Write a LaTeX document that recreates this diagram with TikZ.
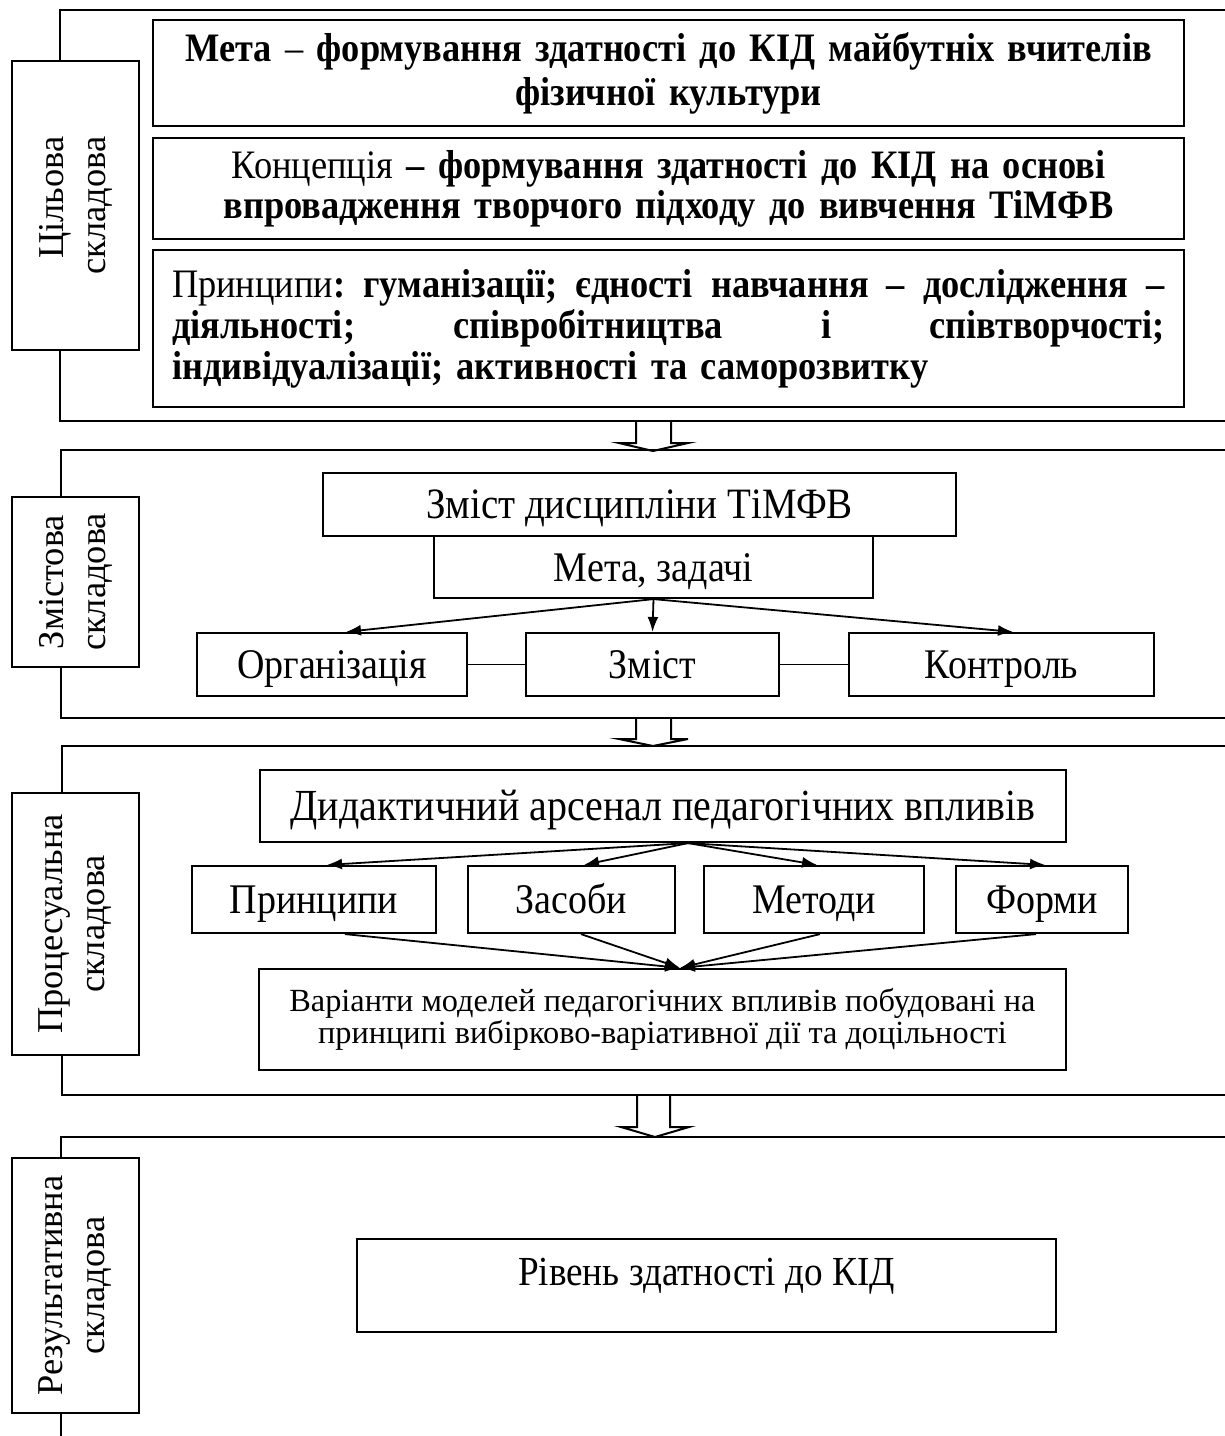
\documentclass[tikz,border=0pt]{standalone}
\usepackage{fontspec}
\setmainfont{Liberation Serif}[FakeStretch=0.9]
\newfontfamily\lblfont{Liberation Serif}
\usetikzlibrary{arrows.meta,calc}
\newcommand\topsz{\fontsize{40.4}{44}\selectfont}
\newcommand\boxsz{\fontsize{42.2}{44}\selectfont}
\newcommand\bigsz{\fontsize{44.4}{46}\selectfont}
\newcommand\jsp{\hskip 0.25em plus 1fil\relax}
\tikzset{
  box/.style={draw, line width=2.2pt, fill=white, inner sep=0pt, font=\boxsz},
  one/.style={text height=30pt, text depth=2pt},
  lbl/.style={draw, line width=2.2pt, fill=white, inner sep=0pt, rotate=90, minimum height=127pt, font=\lblfont\fontsize{36.4}{42}\selectfont},
  frameline/.style={line width=2.2pt},
  hollow/.style={line width=2pt, line join=miter},
  con/.style={line width=1.8pt, -{Latex[length=15pt,width=11pt]}},
  ln/.style={line width=1.8pt}
}
\begin{document}
\begin{tikzpicture}[x=1pt,y=-1pt]
\useasboundingbox (0,0) rectangle (1225,1436);

% frames
\draw[frameline] (1225,10) -- (60,10) -- (60,421) -- (1225,421);
\draw[frameline] (1225,450) -- (61,450) -- (61,718) -- (1225,718);
\draw[frameline] (1225,746) -- (62,746) -- (62,1095) -- (1225,1095);
\draw[frameline] (1225,1137) -- (61,1137) -- (61,1436);

% hollow arrows between frames
\draw[hollow] (636,421) -- (636,443) -- (619,443) -- (653,451) -- (688,443) -- (671,443) -- (671,421);
\draw[hollow] (636,718) -- (636,739) -- (619,739) -- (653,746) -- (688,739) -- (671,739) -- (671,718);
\draw[hollow] (637,1095) -- (637,1127) -- (621,1127) -- (655,1137) -- (689,1127) -- (670,1127) -- (670,1095);

% side labels
\node[lbl, minimum width=289pt, align=right] (l1) at (75.5,205.5) {Цільова\\складова};
\node[lbl, minimum width=170pt, align=center] (l2) at (75.5,582) {Змістова\\складова};
\node[lbl, minimum width=262pt, align=center] (l3) at (75.5,924) {Процесуальна\\складова};
\node[lbl, minimum width=255pt, align=center] (l4) at (75.5,1285.5) {Результативна\\складова};

% section 1
\node[box, minimum width=1031pt, minimum height=106pt, text width=1000pt, align=center, font=\fontsize{40.4}{44}\selectfont] (meta) at (668.5,73)
  {\textbf{Мета} – \textbf{формування здатності до КІД майбутніх вчителів}\\\textbf{фізичної культури}};
\node[box, minimum width=1031pt, minimum height=101pt, text width=1000pt, align=center, font=\fontsize{40.4}{40}\selectfont] (konc) at (668.5,188.5)
  {Концепція \textbf{– формування здатності до КІД на основі}\\\textbf{впровадження творчого підходу до вивчення ТіМФВ}};
\node[box, minimum width=1031pt, minimum height=157pt, text width=993pt, align=left, font=\fontsize{40.4}{41}\selectfont] (princ) at (668.5,328.5)
  {\leavevmode\hbox to 993pt{Принципи\textbf{:\jsp гуманізації;\jsp єдності\jsp навчання\jsp –\jsp дослідження\jsp –}}\\
   \leavevmode\hbox to 993pt{\textbf{діяльності;\jsp співробітництва\jsp і\jsp співтворчості;}}\\
   \textbf{індивідуалізації; активності та саморозвитку}};

% section 2
\node[box, one, minimum width=633pt, minimum height=63pt, font=\fontsize{43.3}{44}\selectfont] (zd) at (639.5,504.5) {Зміст дисципліни ТіМФВ};
\node[box, one, minimum width=439pt, minimum height=62pt] (mz) at (653.5,567) {Мета, задачі};
\node[box, one, minimum width=270pt, minimum height=63pt] (org) at (332,664.5) {Організація};
\node[box, one, minimum width=253pt, minimum height=63pt] (zm) at (652.5,664.5) {Зміст};
\node[box, one, minimum width=305pt, minimum height=63pt] (kon) at (1001.5,664.5) {Контроль};
\draw[con] (mz.south) -- ($(org.north)+(14,0)$);
\draw[con] (mz.south) -- (zm.north);
\draw[con] (mz.south) -- ($(kon.north)+(11.5,0)$);
\draw[ln] (org.east) -- (zm.west);
\draw[ln] (zm.east) -- (kon.west);

% section 3
\node[box, one, minimum width=806pt, minimum height=72pt, font=\bigsz] (did) at (663,806) {Дидактичний арсенал педагогічних впливів};
\node[box, one, minimum width=244pt, minimum height=67pt] (pr) at (314,899.5) {Принципи};
\node[box, one, minimum width=207pt, minimum height=67pt] (zas) at (571.5,899.5) {Засоби};
\node[box, one, minimum width=220pt, minimum height=67pt] (met) at (814,899.5) {Методи};
\node[box, one, minimum width=172pt, minimum height=67pt] (for) at (1042,899.5) {Форми};
\node[box, minimum width=807pt, minimum height=101pt, align=center, font=\lblfont\fontsize{32.3}{32}\selectfont] (var) at (662.5,1019.5)
  {Варіанти моделей педагогічних впливів побудовані на\\принципі вибірково-варіативної дії та доцільності};
\coordinate (dsrc) at ($(did.south)+(25,0)$);
\coordinate (vdst) at ($(var.north)+(17.5,0)$);
\draw[con] (dsrc) -- ($(pr.north)+(13,0)$);
\draw[con] (dsrc) -- ($(zas.north)+(12.5,0)$);
\draw[con] (dsrc) -- ($(met.north)+(3,0)$);
\draw[con] (dsrc) -- ($(for.north)+(3,0)$);
\draw[con] ($(pr.south)+(31,0)$) -- (vdst);
\draw[con] ($(zas.south)+(9.5,0)$) -- (vdst);
\draw[con] ($(met.south)+(6,0)$) -- (vdst);
\draw[con] ($(for.south)+(-6,0)$) -- (vdst);

% section 4
\node[box, minimum width=699pt, minimum height=93pt, text height=26pt, text depth=26pt, font=\fontsize{41.3}{44}\selectfont] (riv) at (706.5,1285.5) {Рівень здатності до КІД};
\end{tikzpicture}
\end{document}
